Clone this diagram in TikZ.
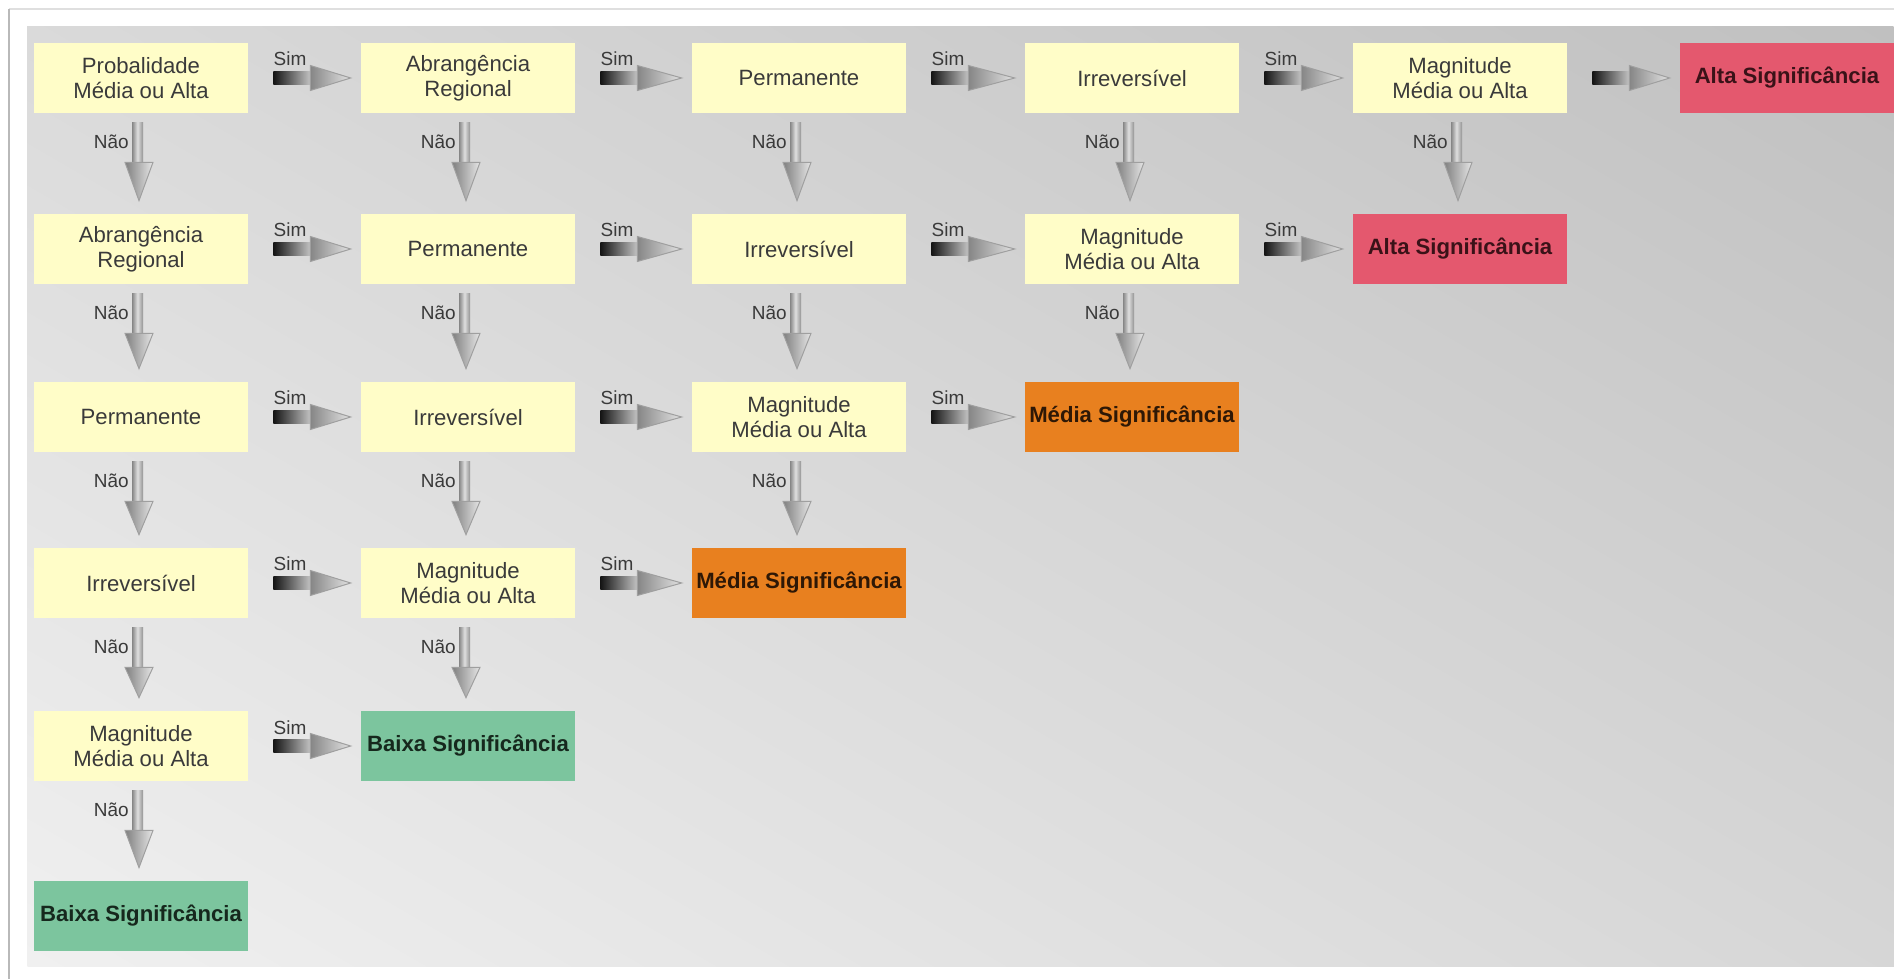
\documentclass[tikz,border=0pt]{standalone}
\usepackage{fontspec}
\setmainfont{Liberation Sans}
\usetikzlibrary{calc}
\definecolor{boxyellow}{HTML}{FFFDC8}
\definecolor{altared}{HTML}{E4586E}
\definecolor{mediaor}{HTML}{E8801F}
\definecolor{baixagr}{HTML}{7CC59E}
\definecolor{txtgray}{HTML}{3A3A3A}
\definecolor{txtred}{HTML}{3A1218}
\definecolor{txtor}{HTML}{2E1806}
\definecolor{txtgr}{HTML}{16281D}
\definecolor{panelTop}{HTML}{C0C0C0}
\definecolor{panelBot}{HTML}{F0F0F0}
\newcommand{\harrow}[2]{%
  \shade[left color=black!92, right color=gray!40] ($(#1.east)+(25,-6.5)$) rectangle ($(#1.east)+(64,6.5)$);
  \shade[left color=gray!95, right color=gray!22, draw=gray!75, line width=0.02cm]
    ($(#1.east)+(62,-12.5)$) -- ($(#2.west)+(-10,0)$) -- ($(#1.east)+(62,12.5)$) -- cycle;
}
\newcommand{\simarrow}[2]{%
  \harrow{#1}{#2}
  \node[lbl, anchor=base west] at ($(#1.east)+(25,-12)$) {Sim};
}
\newcommand{\naoarrow}[2]{%
  \shade[left color=gray!95, right color=gray!85, middle color=gray!25] ($(#1.south)+(-9,9)$) rectangle ($(#1.south)+(2,51)$);
  \shade[left color=gray!100, right color=gray!20, draw=gray!75, line width=0.02cm]
    ($(#1.south)+(-16,49)$) -- ($(#2.north)+(-2,-13)$) -- ($(#1.south)+(12,49)$) -- cycle;
  \node[lbl, anchor=base east] at ($(#1.south)+(-12,35)$) {Não};
}
\begin{document}
\begin{tikzpicture}[x=0.02cm,y=-0.02cm,
  cell/.style={minimum width=4.28cm, minimum height=1.4cm, inner sep=0pt, align=center,
    font=\fontsize{12.6}{14.4}\selectfont},
  q/.style={cell, fill=boxyellow, text=txtgray},
  alta/.style={cell, fill=altared, text=txtred, font=\fontsize{12.6}{14.4}\selectfont\bfseries},
  media/.style={cell, fill=mediaor, text=txtor, font=\fontsize{12.6}{14.4}\selectfont\bfseries},
  baixa/.style={cell, fill=baixagr, text=txtgr, font=\fontsize{12.6}{14.4}\selectfont\bfseries},
  lbl/.style={inner sep=0pt, text=txtgray, font=\fontsize{10.8}{12}\selectfont}]
\useasboundingbox (0,0) rectangle (1894,979);
\fill[white] (0,0) rectangle (1894,979);
\draw[gray!25, line width=0.03cm] (9,9) -- (1900,9);
\draw[gray!55, line width=0.04cm] (9,990) -- (9,9);
\begin{scope}
  \clip (27,27) rectangle (1894,966);
  \begin{scope}[transform canvas={rotate around={-30.2:(960.5,496.5)}}]
    \shade[top color=panelTop, bottom color=panelBot]
      (-140,-379) rectangle (2061,1372);
  \end{scope}
\end{scope}
% row 0
\node[q] (n00) at (141,78) {Probalidade\\Média ou Alta};
\node[q] (n01) at (468,78) {Abrangência\\Regional};
\node[q] (n02) at (799,78) {Permanente};
\node[q] (n03) at (1132,78) {Irreversível};
\node[q] (n04) at (1460,78) {Magnitude\\Média ou Alta};
\node[alta] (n05) at (1787,78) {Alta Significância};
% row 1
\node[q] (n10) at (141,249) {Abrangência\\Regional};
\node[q] (n11) at (468,249) {Permanente};
\node[q] (n12) at (799,249) {Irreversível};
\node[q] (n13) at (1132,249) {Magnitude\\Média ou Alta};
\node[alta] (n14) at (1460,249) {Alta Significância};
% row 2
\node[q] (n20) at (141,417) {Permanente};
\node[q] (n21) at (468,417) {Irreversível};
\node[q] (n22) at (799,417) {Magnitude\\Média ou Alta};
\node[media] (n23) at (1132,417) {Média Significância};
% row 3
\node[q] (n30) at (141,583) {Irreversível};
\node[q] (n31) at (468,583) {Magnitude\\Média ou Alta};
\node[media] (n32) at (799,583) {Média Significância};
% row 4
\node[q] (n40) at (141,746) {Magnitude\\Média ou Alta};
\node[baixa] (n41) at (468,746) {Baixa Significância};
% row 5
\node[baixa] (n50) at (141,916) {Baixa Significância};
% horizontal arrows
\simarrow{n00}{n01}\simarrow{n01}{n02}\simarrow{n02}{n03}\simarrow{n03}{n04}\harrow{n04}{n05}
\simarrow{n10}{n11}\simarrow{n11}{n12}\simarrow{n12}{n13}\simarrow{n13}{n14}
\simarrow{n20}{n21}\simarrow{n21}{n22}\simarrow{n22}{n23}
\simarrow{n30}{n31}\simarrow{n31}{n32}
\simarrow{n40}{n41}
% vertical arrows
\naoarrow{n00}{n10}\naoarrow{n01}{n11}\naoarrow{n02}{n12}\naoarrow{n03}{n13}\naoarrow{n04}{n14}
\naoarrow{n10}{n20}\naoarrow{n11}{n21}\naoarrow{n12}{n22}\naoarrow{n13}{n23}
\naoarrow{n20}{n30}\naoarrow{n21}{n31}\naoarrow{n22}{n32}
\naoarrow{n30}{n40}\naoarrow{n31}{n41}
\naoarrow{n40}{n50}
\end{tikzpicture}
\end{document}
